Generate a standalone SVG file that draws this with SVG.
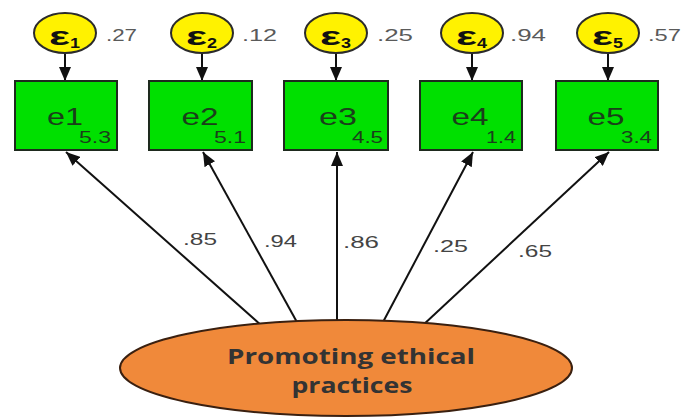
<svg xmlns="http://www.w3.org/2000/svg" width="684" height="417" viewBox="0 0 684 417">
<style>
.err{fill:#fff200;stroke:#2b2b2b;stroke-width:2}
.eps{font-family:"Liberation Sans",Arial,sans-serif;font-weight:bold;font-size:26px;fill:#111}
.sub{font-family:"Liberation Sans",Arial,sans-serif;font-weight:bold;font-size:15px;fill:#111}
.var{font-family:"Liberation Sans",Arial,sans-serif;font-size:17px;fill:#5a5a5a}
.box{fill:#00e000;stroke:#1e2a1e;stroke-width:2}
.bname{font-family:"Liberation Sans",Arial,sans-serif;font-size:23px;fill:#1a3f1a;text-anchor:middle}
.bnum{font-family:"Liberation Sans",Arial,sans-serif;font-size:16px;fill:#1a3f1a;text-anchor:end}
.coef{font-family:"Liberation Sans",Arial,sans-serif;font-size:17px;fill:#444}
.conn{stroke:#111;stroke-width:2;fill:none}
.lat{fill:#f0893a;stroke:#3a2010;stroke-width:2}
.lattxt{font-family:"Open Sans","Noto Sans",sans-serif;font-weight:bold;font-size:22px;fill:#333;text-anchor:middle}
</style>
<defs>
<marker id="ah" markerUnits="userSpaceOnUse" markerWidth="14" markerHeight="12" refX="14" refY="6" orient="auto">
<path d="M0,0 L14,6 L0,12 z" fill="#111"/>
</marker>
</defs>
<g id="connectors">
<line class="conn" x1="65" y1="53" x2="65" y2="81" marker-end="url(#ah)"/>
<line class="conn" x1="202" y1="53" x2="202" y2="81" marker-end="url(#ah)"/>
<line class="conn" x1="336" y1="53" x2="336" y2="81" marker-end="url(#ah)"/>
<line class="conn" x1="472" y1="53" x2="472" y2="81" marker-end="url(#ah)"/>
<line class="conn" x1="608" y1="53" x2="608" y2="81" marker-end="url(#ah)"/>
<line class="conn" x1="262" y1="326" x2="66" y2="152" marker-end="url(#ah)"/>
<line class="conn" x1="298" y1="324" x2="203" y2="152" marker-end="url(#ah)"/>
<line class="conn" x1="337" y1="324" x2="337" y2="152" marker-end="url(#ah)"/>
<line class="conn" x1="382" y1="324" x2="473" y2="152" marker-end="url(#ah)"/>
<line class="conn" x1="422" y1="326" x2="609" y2="152" marker-end="url(#ah)"/>
<text class="coef" x="183" y="245" textLength="34" lengthAdjust="spacingAndGlyphs">.85</text>
<text class="coef" x="264" y="247" textLength="33" lengthAdjust="spacingAndGlyphs">.94</text>
<text class="coef" x="343" y="248" textLength="36" lengthAdjust="spacingAndGlyphs">.86</text>
<text class="coef" x="433" y="252" textLength="35" lengthAdjust="spacingAndGlyphs">.25</text>
<text class="coef" x="518" y="257" textLength="34" lengthAdjust="spacingAndGlyphs">.65</text>
</g>
<g id="eps1">
<ellipse class="err" cx="65" cy="33" rx="31" ry="20"/>
<text class="eps" x="49" y="45" textLength="21" lengthAdjust="spacingAndGlyphs">ε</text>
<text class="sub" x="70" y="48" textLength="10" lengthAdjust="spacingAndGlyphs">1</text>
<text class="var" x="106" y="41" textLength="31" lengthAdjust="spacingAndGlyphs">.27</text>
</g>
<g id="eps2">
<ellipse class="err" cx="202" cy="33" rx="31" ry="20"/>
<text class="eps" x="186" y="45" textLength="21" lengthAdjust="spacingAndGlyphs">ε</text>
<text class="sub" x="207" y="48" textLength="10" lengthAdjust="spacingAndGlyphs">2</text>
<text class="var" x="242" y="41" textLength="35" lengthAdjust="spacingAndGlyphs">.12</text>
</g>
<g id="eps3">
<ellipse class="err" cx="336" cy="33" rx="31" ry="20"/>
<text class="eps" x="320" y="45" textLength="21" lengthAdjust="spacingAndGlyphs">ε</text>
<text class="sub" x="341" y="48" textLength="10" lengthAdjust="spacingAndGlyphs">3</text>
<text class="var" x="377" y="41" textLength="36" lengthAdjust="spacingAndGlyphs">.25</text>
</g>
<g id="eps4">
<ellipse class="err" cx="472" cy="33" rx="31" ry="20"/>
<text class="eps" x="456" y="45" textLength="21" lengthAdjust="spacingAndGlyphs">ε</text>
<text class="sub" x="477" y="48" textLength="10" lengthAdjust="spacingAndGlyphs">4</text>
<text class="var" x="510" y="41" textLength="36" lengthAdjust="spacingAndGlyphs">.94</text>
</g>
<g id="eps5">
<ellipse class="err" cx="608" cy="33" rx="31" ry="20"/>
<text class="eps" x="592" y="45" textLength="21" lengthAdjust="spacingAndGlyphs">ε</text>
<text class="sub" x="613" y="48" textLength="10" lengthAdjust="spacingAndGlyphs">5</text>
<text class="var" x="648" y="41" textLength="33" lengthAdjust="spacingAndGlyphs">.57</text>
</g>
<g id="e1">
<rect class="box" x="15" y="81" width="102" height="69"/>
<text class="bname" x="65" y="125" textLength="36" lengthAdjust="spacingAndGlyphs">e1</text>
<text class="bnum" x="111" y="143" textLength="32" lengthAdjust="spacingAndGlyphs">5.3</text>
</g>
<g id="e2">
<rect class="box" x="149" y="81" width="103" height="69"/>
<text class="bname" x="200" y="125" textLength="37" lengthAdjust="spacingAndGlyphs">e2</text>
<text class="bnum" x="246" y="143" textLength="32" lengthAdjust="spacingAndGlyphs">5.1</text>
</g>
<g id="e3">
<rect class="box" x="284" y="81" width="104" height="69"/>
<text class="bname" x="338" y="125" textLength="38" lengthAdjust="spacingAndGlyphs">e3</text>
<text class="bnum" x="383" y="143" textLength="31" lengthAdjust="spacingAndGlyphs">4.5</text>
</g>
<g id="e4">
<rect class="box" x="420" y="81" width="102" height="69"/>
<text class="bname" x="470" y="125" textLength="37" lengthAdjust="spacingAndGlyphs">e4</text>
<text class="bnum" x="516" y="143" textLength="30" lengthAdjust="spacingAndGlyphs">1.4</text>
</g>
<g id="e5">
<rect class="box" x="556" y="81" width="102" height="69"/>
<text class="bname" x="606" y="125" textLength="37" lengthAdjust="spacingAndGlyphs">e5</text>
<text class="bnum" x="652" y="143" textLength="31" lengthAdjust="spacingAndGlyphs">3.4</text>
</g>
<g id="latent">
<ellipse class="lat" cx="346" cy="368" rx="226" ry="48"/>
<text class="lattxt" x="351" y="364" textLength="248" lengthAdjust="spacingAndGlyphs">Promoting ethical</text>
<text class="lattxt" x="352" y="393" textLength="121" lengthAdjust="spacingAndGlyphs">practices</text>
</g>
</svg>
